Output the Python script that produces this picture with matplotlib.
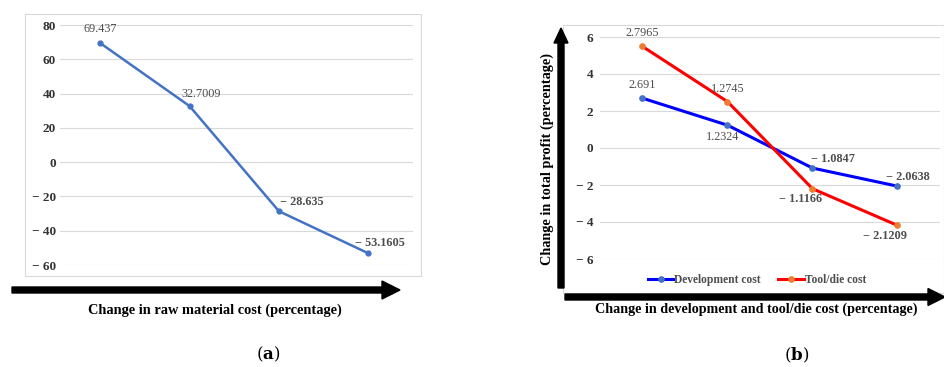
import numpy as np
import matplotlib
matplotlib.use("Agg")
import matplotlib.pyplot as plt
from matplotlib.patches import FancyArrow, Rectangle

plt.rcParams['font.family'] = ['Liberation Serif', 'DejaVu Serif']
plt.rcParams['mathtext.fontset'] = 'dejavuserif'

# change in total profit (%) for steps in raw material cost
raw_steps = [1, 2, 3, 4]
raw_profit = [69.437, 32.7009, -28.635, -53.1605]
raw_ticks = [80, 60, 40, 20, 0, -20, -40, -60]

# change in total profit (%) for development and tool/die cost (stacked line)
cost_steps = [1, 2, 3, 4]
dev_profit = [2.691, 1.2324, -1.0847, -2.0638]
tool_profit = [2.7965, 1.2745, -1.1166, -2.1209]
cost_ticks = [6, 4, 2, 0, -2, -4, -6]

W, H = 945, 367
LABEL_GRAY = '#4D4D4D'
TICK_GRAY = '#333333'


def fmt(v, step=False):
    s = f"{abs(v):g}" if step else f"{abs(v)}"
    return s if v >= 0 else "\u2212 " + s


def px_axes(fig, x0, y0, x1, y1):
    # place an axes from pixel corners (top-left origin)
    return fig.add_axes([x0 / W, 1 - y1 / H, (x1 - x0) / W, (y1 - y0) / H])


def style_axes(ax, ticks, pad):
    for sp in ax.spines.values():
        sp.set_visible(False)
    ax.set_xticks([])
    ax.set_yticks(ticks)
    ax.set_yticklabels([fmt(t, True) for t in ticks], fontweight='bold',
                       fontsize=9.5, color=TICK_GRAY)
    ax.tick_params(axis='y', length=0, pad=pad)
    ax.grid(axis='y', color='#D9D9D9', linewidth=0.8)
    ax.set_axisbelow(True)


def add_labels(ax, xs, ys, texts, offsets):
    for x, y, t, (dx, dy) in zip(xs, ys, texts, offsets):
        ax.annotate(t, (x, y), xytext=(dx, dy), textcoords='offset pixels',
                    ha='center', va='center', fontsize=8.8, color=LABEL_GRAY,
                    fontweight='bold' if t.startswith("\u2212") else 'normal')


fig = plt.figure(figsize=(W / 100, H / 100), dpi=100)

# frame, arrows and captions drawn in pixel space
over = fig.add_axes([0, 0, 1, 1], zorder=5)
over.set_xlim(0, W)
over.set_ylim(H, 0)
over.axis('off')
over.patch.set_alpha(0)

over.add_patch(Rectangle((25, 14), 396, 262, fill=False, edgecolor='#D9D9D9', lw=0.8))
over.add_patch(Rectangle((563, 25), 381, 268, fill=False, edgecolor='#D9D9D9', lw=0.8))

over.add_patch(FancyArrow(12, 290, 388, 0, width=6, head_width=18, head_length=18,
                          length_includes_head=True, color='black'))
over.add_patch(FancyArrow(565, 297, 380, 0, width=6, head_width=17, head_length=17,
                          length_includes_head=True, color='black'))
over.add_patch(FancyArrow(561, 288, 0, -260, width=6, head_width=14, head_length=15,
                          length_includes_head=True, color='black'))

over.text(215, 310, "Change in raw material cost (percentage)", ha='center', va='center',
          fontsize=10.4, fontweight='bold')
over.text(756, 309, "Change in development and tool/die cost (percentage)", ha='center',
          va='center', fontsize=10.2, fontweight='bold')
over.text(547, 159, "Change in total profit (percentage)", ha='center', va='center',
          rotation=90, fontsize=10.3, fontweight='bold')
over.text(268, 354, r"$(\mathbf{a})$", ha='center', va='center', fontsize=12)
over.text(797, 355, r"$(\mathbf{b})$", ha='center', va='center', fontsize=12)

# (a) raw material cost
ax1 = px_axes(fig, 60, 25, 413, 265)
ax1.plot(raw_steps, raw_profit, color='#4472C4', lw=1.8, marker='o', ms=3.5)
ax1.set_xlim(0.55, 4.5)
ax1.set_ylim(-60, 80)
style_axes(ax1, raw_ticks, 3)
add_labels(ax1, raw_steps, raw_profit, [fmt(v) for v in raw_profit],
           [(0, 14), (12, 12), (23, 9), (12, 10)])

# (b) development and tool/die cost, tool/die stacked on development
tool_stacked = np.array(dev_profit) + np.array(tool_profit)
ax2 = px_axes(fig, 600, 37, 940, 259)
ax2.plot(cost_steps, dev_profit, color='#0000FF', lw=2.2, marker='o', ms=3.8,
         mfc='#4472C4', mec='#4472C4', label='Development cost')
ax2.plot(cost_steps, tool_stacked, color='#FF0000', lw=2.2, marker='o', ms=3.8,
         mfc='#ED7D31', mec='#ED7D31', label='Tool/die cost')
ax2.set_xlim(0.5, 4.5)
ax2.set_ylim(-6, 6)
style_axes(ax2, cost_ticks, 5)
add_labels(ax2, cost_steps, dev_profit, [fmt(v) for v in dev_profit],
           [(0, 13), (-5, -12), (20, 9), (10, 9)])
add_labels(ax2, cost_steps, tool_stacked, [fmt(v) for v in tool_profit],
           [(0, 13), (0, 13), (-12, -10), (-12, -11)])
ax2.legend(loc='center', bbox_to_anchor=(0.462, -0.095), ncol=2, frameon=False,
           handlelength=2.2, handletextpad=0.1, columnspacing=1.5,
           prop={'weight': 'bold', 'size': 8.3}, labelcolor=LABEL_GRAY)

fig.savefig('out.png', dpi=100, facecolor='white')
